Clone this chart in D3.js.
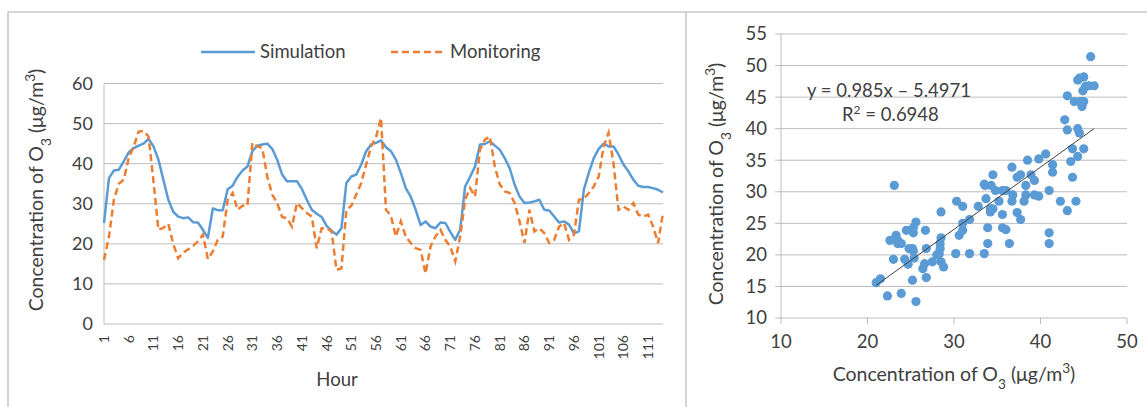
<!DOCTYPE html>
<html>
<head>
<meta charset="utf-8">
<script src="https://cdn.jsdelivr.net/npm/d3@7"></script>
<style>
  body { margin: 0; background: #fff; }
  text { font-family: Lato, 'Open Sans', sans-serif; fill: #404040; }
</style>
</head>
<body>
<svg id="chart" width="1147" height="407"></svg>
<script>
// hourly O3 concentrations (ug/m3), hours 1..114
const hours = d3.range(1, 115);
const hourTicks = [1, 6, 11, 16, 21, 26, 31, 36, 41, 46, 51, 56, 61, 66, 71, 76, 81, 86, 91, 96, 101, 106, 111];

const simulation = [
  25.2, 36.4, 38.3, 38.5, 40.6, 42.8, 43.9, 44.5, 45.0, 46.2,
  44.3, 41.0, 36.0, 31.0, 28.0, 26.8, 26.4, 26.6, 25.4, 25.3,
  23.5, 21.5, 28.8, 28.4, 28.4, 33.6, 34.5, 36.7, 38.3, 39.3,
  43.1, 44.5, 44.8, 45.0, 43.7, 41.0, 37.3, 35.6, 35.6, 35.6,
  33.7, 31.0, 28.5, 27.5, 26.7, 24.5, 23.3, 22.3, 23.9, 35.2,
  36.8, 37.3, 39.8, 43.1, 44.8, 45.2, 45.8, 44.1, 43.1, 41.0,
  37.7, 33.9, 31.8, 28.5, 24.7, 25.6, 24.3, 23.9, 25.3, 25.2,
  23.0, 21.0, 23.5, 34.3, 36.7, 39.3, 44.8, 44.9, 45.6, 44.5,
  43.5, 41.4, 38.9, 34.8, 31.8, 30.2, 30.3, 30.6, 31.0, 28.5,
  28.3, 26.8, 25.3, 25.6, 24.8, 22.6, 23.1, 33.5, 37.7, 41.4,
  43.7, 45.0, 44.3, 44.3, 42.3, 39.8, 38.1, 36.0, 34.5, 34.2,
  34.2, 33.9, 33.5, 32.8
];

const monitoring = [
  16.0, 21.8, 31.0, 35.0, 36.0, 41.4, 44.3, 48.0, 48.2, 46.8,
  35.6, 23.5, 24.0, 25.0, 20.0, 16.4, 17.8, 18.6, 19.5, 20.6,
  22.3, 16.2, 18.1, 21.0, 21.8, 31.0, 32.7, 28.5, 29.5, 29.5,
  45.2, 44.3, 43.9, 36.8, 32.3, 30.2, 26.7, 26.4, 24.3, 30.2,
  28.9, 27.7, 26.8, 18.9, 23.9, 23.9, 23.1, 13.5, 13.9, 28.5,
  29.5, 32.3, 35.2, 39.8, 44.3, 46.7, 51.4, 28.5, 27.0, 21.8,
  25.6, 21.8, 20.2, 18.9, 18.5, 12.6, 19.3, 21.8, 23.5, 21.0,
  19.3, 15.6, 21.8, 31.0, 33.9, 31.8, 43.5, 46.0, 46.8, 39.3,
  34.8, 33.1, 32.7, 30.2, 25.6, 20.2, 28.5, 23.1, 23.9, 22.7,
  20.2, 21.0, 24.3, 25.2, 21.0, 22.3, 31.0, 31.2, 32.7, 34.3,
  36.8, 44.3, 47.7, 40.0, 28.5, 29.3, 28.5, 30.2, 27.3, 26.8,
  27.3, 24.3, 20.2, 27.7
];

const seriesNames = ['Simulation', 'Monitoring'];
const lineTicks = [0, 10, 20, 30, 40, 50, 60];
const scatterXTicks = [10, 20, 30, 40, 50];
const scatterYTicks = [10, 15, 20, 25, 30, 35, 40, 45, 50, 55];
const slope = 0.985;
const intercept = -5.4971;
const rSquared = 0.6948;

const blue = '#5b9bd5';
const orange = '#ed7d31';
const grid = '#bcbcbc';

const svg = d3.select('#chart');

// panel frames
svg.append('path')
  .attr('d', 'M8,407 V12 H1147 M686,12 V407')
  .attr('fill', 'none')
  .attr('stroke', '#c8c8c8')
  .attr('stroke-width', 1.5);

// O3 label with sub/superscript
function o3Label(sel) {
  sel.append('tspan').text('Concentration of O');
  sel.append('tspan').attr('baseline-shift', 'sub').attr('font-size', '70%').text('3');
  sel.append('tspan').text(' (μg/m');
  sel.append('tspan').attr('baseline-shift', 'super').attr('font-size', '70%').text('3');
  sel.append('tspan').text(')');
}

// ---------- left: time series ----------
const x = d3.scalePoint().domain(hours).range([104, 663]);
const y = d3.scaleLinear().domain([0, 60]).range([324, 83.5]);

const left = svg.append('g');

left.append('g')
  .selectAll('line')
  .data(lineTicks.slice(1))
  .join('line')
  .attr('x1', 104).attr('x2', 663)
  .attr('y1', d => y(d)).attr('y2', d => y(d))
  .attr('stroke', grid);

left.append('path')
  .attr('d', `M104,${y(60)} V${y(0)} H663`)
  .attr('fill', 'none')
  .attr('stroke', grid);

left.append('g')
  .selectAll('text')
  .data(lineTicks)
  .join('text')
  .attr('x', 93)
  .attr('y', d => y(d))
  .attr('dy', '0.35em')
  .attr('text-anchor', 'end')
  .attr('font-size', 18)
  .text(d => d);

left.append('g')
  .selectAll('text')
  .data(hourTicks)
  .join('text')
  .attr('transform', d => `translate(${x(d)},335) rotate(-90)`)
  .attr('dy', '0.35em')
  .attr('text-anchor', 'end')
  .attr('font-size', 14)
  .text(d => d);

const line = d3.line()
  .x((d, i) => x(hours[i]))
  .y(d => y(d));

left.append('path')
  .datum(simulation)
  .attr('d', line)
  .attr('fill', 'none')
  .attr('stroke', blue)
  .attr('stroke-width', 2.5)
  .attr('stroke-linejoin', 'round');

left.append('path')
  .datum(monitoring)
  .attr('d', line)
  .attr('fill', 'none')
  .attr('stroke', orange)
  .attr('stroke-width', 2.5)
  .attr('stroke-dasharray', '7,4');

// legend
const legend = left.append('g')
  .selectAll('g')
  .data(seriesNames)
  .join('g')
  .attr('transform', (d, i) => `translate(${i ? 391 : 201},52)`);

legend.append('line')
  .attr('x2', 54)
  .attr('stroke', (d, i) => (i ? orange : blue))
  .attr('stroke-width', 2.5)
  .attr('stroke-dasharray', (d, i) => (i ? '7,4' : null));

legend.append('text')
  .attr('x', 59)
  .attr('dy', '0.35em')
  .attr('font-size', 18.5)
  .text(d => d);

left.append('text')
  .attr('transform', 'translate(43,190) rotate(-90)')
  .attr('text-anchor', 'middle')
  .attr('font-size', 19.5)
  .call(o3Label);

left.append('text')
  .attr('x', 337)
  .attr('y', 386)
  .attr('text-anchor', 'middle')
  .attr('font-size', 18.5)
  .text('Hour');

// ---------- right: scatter ----------
const sx = d3.scaleLinear().domain([10, 50]).range([781, 1127]);
const sy = d3.scaleLinear().domain([10, 55]).range([318, 34]);

const right = svg.append('g');

right.append('g')
  .selectAll('line')
  .data(scatterYTicks)
  .join('line')
  .attr('x1', 775).attr('x2', 1127)
  .attr('y1', d => sy(d)).attr('y2', d => sy(d))
  .attr('stroke', grid);

right.append('line')
  .attr('x1', 781).attr('x2', 781)
  .attr('y1', sy(55)).attr('y2', sy(10))
  .attr('stroke', grid);

right.append('g')
  .selectAll('line')
  .data(scatterXTicks)
  .join('line')
  .attr('x1', d => sx(d)).attr('x2', d => sx(d))
  .attr('y1', sy(10)).attr('y2', sy(10) + 6)
  .attr('stroke', grid);

right.append('g')
  .selectAll('text')
  .data(scatterYTicks)
  .join('text')
  .attr('x', 767)
  .attr('y', d => sy(d))
  .attr('dy', '0.35em')
  .attr('text-anchor', 'end')
  .attr('font-size', 18.5)
  .text(d => d);

right.append('g')
  .selectAll('text')
  .data(scatterXTicks)
  .join('text')
  .attr('x', d => sx(d))
  .attr('y', 348)
  .attr('text-anchor', 'middle')
  .attr('font-size', 18.5)
  .text(d => d);

right.append('g')
  .selectAll('circle')
  .data(simulation)
  .join('circle')
  .attr('cx', d => sx(d))
  .attr('cy', (d, i) => sy(monitoring[i]))
  .attr('r', 4.6)
  .attr('fill', blue);

const [minX, maxX] = d3.extent(simulation);
right.append('line')
  .attr('x1', sx(minX)).attr('y1', sy(slope * minX + intercept))
  .attr('x2', sx(maxX)).attr('y2', sy(slope * maxX + intercept))
  .attr('stroke', '#404040')
  .attr('stroke-width', 1);

right.append('text')
  .attr('x', 807)
  .attr('y', 97)
  .attr('font-size', 18.5)
  .text(`y = ${slope}x – ${-intercept}`);

const r2 = right.append('text')
  .attr('x', 842)
  .attr('y', 121)
  .attr('font-size', 18.5);
r2.append('tspan').text('R');
r2.append('tspan').attr('baseline-shift', 'super').attr('font-size', '65%').text('2');
r2.append('tspan').text(` = ${rSquared}`);

right.append('text')
  .attr('transform', 'translate(723,184) rotate(-90)')
  .attr('text-anchor', 'middle')
  .attr('font-size', 19.5)
  .call(o3Label);

right.append('text')
  .attr('x', 954)
  .attr('y', 381)
  .attr('text-anchor', 'middle')
  .attr('font-size', 19.5)
  .call(o3Label);
</script>
</body>
</html>
